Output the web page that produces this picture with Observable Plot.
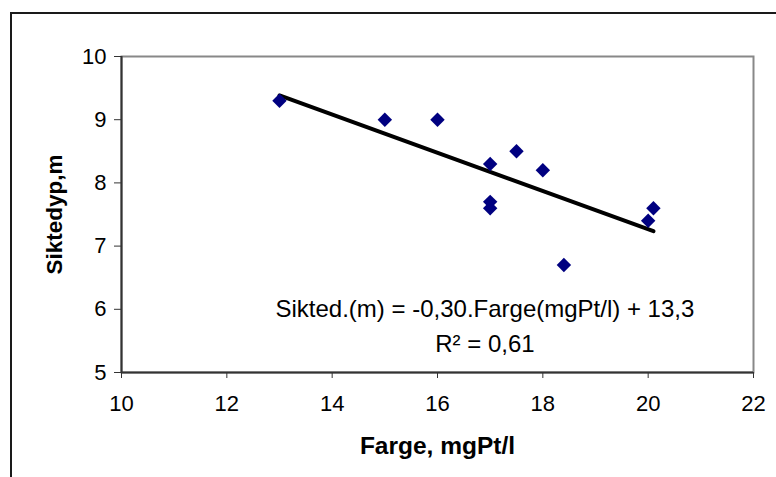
<!DOCTYPE html>
<html>
<head>
<meta charset="utf-8">
<script src="https://cdn.jsdelivr.net/npm/d3@7"></script>
<script src="https://cdn.jsdelivr.net/npm/@observablehq/plot@0.6"></script>
<style>
  html, body { margin: 0; padding: 0; background: #fff; }
  #wrap { position: relative; width: 776px; height: 477px; overflow: hidden; }
  #border { position: absolute; left: 10px; top: 12px; width: 900px; height: 600px;
            border-left: 2px solid #1a1a1a; border-top: 2px solid #1a1a1a; pointer-events: none; }
</style>
</head>
<body>
<div id="wrap"><div id="border"></div></div>
<script>
// Data: Farge (mgPt/l) vs Siktedyp (m)
const farge    = [13, 15, 16, 17, 17, 17, 17.5, 18, 18.4, 20, 20.1];
const siktedyp = [9.3, 9.0, 9.0, 8.3, 7.7, 7.6, 8.5, 8.2, 6.7, 7.4, 7.6];

const xTicks = [10, 12, 14, 16, 18, 20, 22];
const yTicks = [5, 6, 7, 8, 9, 10];

const xTitle = "Farge, mgPt/l";
const yTitle = "Siktedyp,m";
const eqLine1 = "Sikted.(m) = -0,30.Farge(mgPt/l) + 13,3";
const eqLine2 = "R\u00B2 = 0,61";

const data = farge.map((x, i) => ({x, y: siktedyp[i]}));

const axisColor = "#333";
const font = "'Liberation Sans', Arial, sans-serif";

const chart = Plot.plot({
  width: 776,
  height: 477,
  marginLeft: 121,
  marginRight: 23,
  marginTop: 56,
  marginBottom: 105,
  style: {fontFamily: font, background: "transparent", overflow: "visible"},
  x: {domain: [10, 22]},
  y: {domain: [5, 10]},
  marks: [
    Plot.frame({stroke: "#888", strokeWidth: 2}),
    Plot.axisX({ticks: xTicks, tickFormat: "d", tickSize: 6, tickPadding: 17, fontSize: 22, label: null, stroke: axisColor, color: "#000"}),
    Plot.axisY({ticks: yTicks, tickFormat: "d", tickSize: 7, tickPadding: 8, fontSize: 22, label: null, stroke: axisColor, color: "#000"}),
    Plot.ruleX([10], {stroke: axisColor, strokeWidth: 2}),
    Plot.ruleY([5], {stroke: axisColor, strokeWidth: 2}),
    Plot.linearRegressionY(data, {x: "x", y: "y", ci: 0, stroke: "#000", strokeWidth: 4, strokeLinecap: "round"}),
    Plot.dot(data, {x: "x", y: "y", symbol: "diamond2", r: 6.5, fill: "#000080", stroke: "none"}),
    Plot.text([eqLine1], {x: 16.9, y: 6.0, text: d => d, fontSize: 24, fill: "#000", textAnchor: "middle", lineAnchor: "middle"}),
    Plot.text([eqLine2], {x: 16.9, y: 5.45, text: d => d, fontSize: 24, fill: "#000", textAnchor: "middle", lineAnchor: "middle"}),
    Plot.text([xTitle], {frameAnchor: "bottom", text: d => d, fontSize: 24.5, fontWeight: "bold", fill: "#000", textAnchor: "middle", lineAnchor: "bottom", dy: 81}),
    Plot.text([yTitle], {frameAnchor: "left", text: d => d, fontSize: 22.5, fontWeight: "bold", fill: "#000", rotate: -90, textAnchor: "middle", lineAnchor: "bottom", dx: -60})
  ]
});
chart.style.position = "absolute";
chart.style.left = "0px";
chart.style.top = "0px";
document.getElementById("wrap").appendChild(chart);
</script>
</body>
</html>
